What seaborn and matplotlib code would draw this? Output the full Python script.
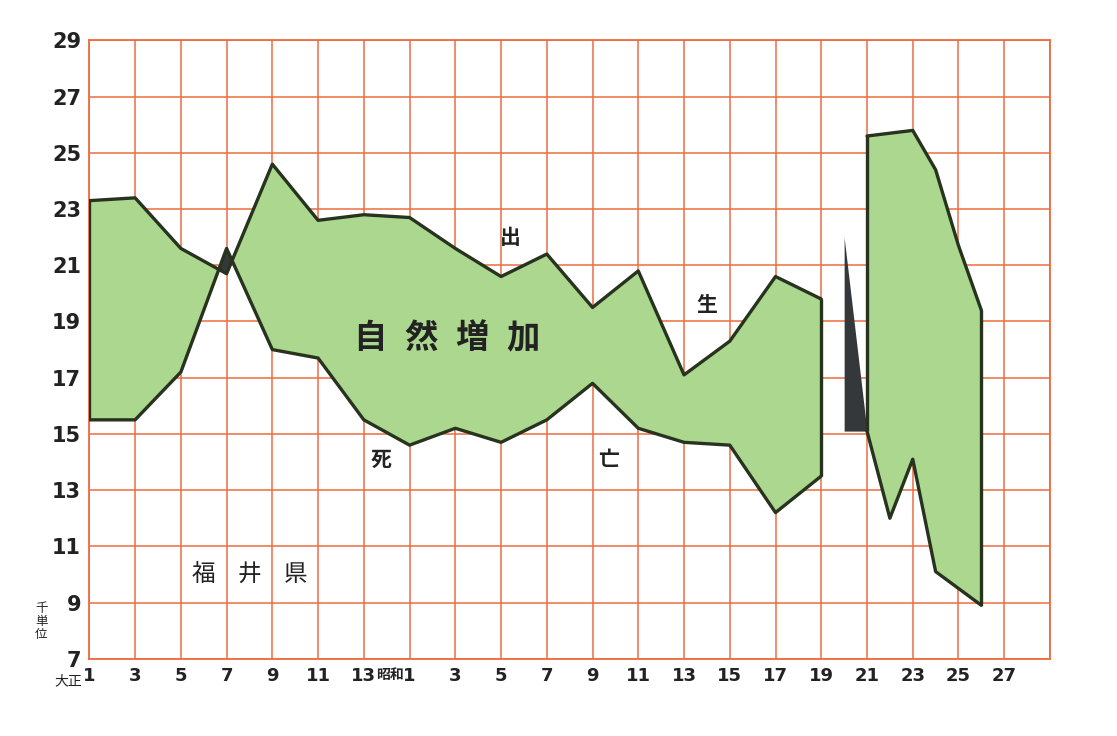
import matplotlib
matplotlib.use("Agg")
import matplotlib.pyplot as plt
import seaborn as sns
import numpy as np

sns.set_theme(style="white")
plt.rcParams['font.family'] = ['Noto Sans CJK JP', 'DejaVu Sans']

# ---------------- data (thousands of persons), Fukui prefecture ----------------
# pre-war segment, every second year (Taisho 1 .. Showa 19)
years_a = [1912, 1914, 1916, 1918, 1920, 1922, 1924, 1926, 1928, 1930,
           1932, 1934, 1936, 1938, 1940, 1942, 1944]
births_a = [23.3, 23.4, 21.6, 20.7, 24.6, 22.6, 22.8, 22.7, 21.6, 20.6,
            21.4, 19.5, 20.8, 17.1, 18.3, 20.6, 19.8]
deaths_a = [15.5, 15.5, 17.2, 21.6, 18.0, 17.7, 15.5, 14.6, 15.2, 14.7,
            15.5, 16.8, 15.2, 14.7, 14.6, 12.2, 13.5]

# war-end excess of deaths (dark wedge)
years_w = [1945, 1946]
war_deaths = [22.0, 15.1]
war_births = [15.1, 15.1]

# post-war segment, yearly
years_b = [1946, 1947, 1948, 1949, 1950, 1951]
births_b = [25.6, 25.7, 25.8, 24.4, 21.7, 19.4]
deaths_b = [15.1, 12.0, 14.1, 10.1, 9.5, 8.9]

x_ticks = list(range(1912, 1955, 2))
x_labels = ["1", "3", "5", "7", "9", "11", "13",
            "1", "3", "5", "7", "9", "11", "13", "15", "17", "19", "21",
            "23", "25", "27", ""]
y_ticks = list(range(7, 30, 2))

# ---------------- styling ----------------
GRID = "#ee6c3e"
GREEN = "#abd78e"
EDGE = "#27331f"
DARK = "#35383a"
INK = "#222222"

fig = plt.figure(figsize=(11.17, 7.36), dpi=100)
fig.patch.set_facecolor("white")
ax = fig.add_axes([0.08, 0.105, 0.86, 0.84])
ax.set_facecolor("white")

def segment(years, births, deaths):
    x = np.array(years, dtype=float)
    b = np.array(births)
    d = np.array(deaths)
    ax.fill_between(x, d, b, where=b >= d, interpolate=True,
                    color=GREEN, lw=0, zorder=2)
    ax.fill_between(x, b, d, where=d > b, interpolate=True,
                    color=DARK, lw=0, zorder=2)
    sns.lineplot(x=x, y=b, ax=ax, color=EDGE, lw=2.4, zorder=3,
                 estimator=None, sort=False)
    sns.lineplot(x=x, y=d, ax=ax, color=EDGE, lw=2.4, zorder=3,
                 estimator=None, sort=False)
    ax.vlines([x[0], x[-1]], [d[0], d[-1]], [b[0], b[-1]],
              color=EDGE, lw=2.4, zorder=3)

segment(years_a, births_a, deaths_a)
ax.fill_between(years_w, war_births, war_deaths, color=DARK, lw=0, zorder=2)
segment(years_b, births_b, deaths_b)

ax.set_xlim(1912, 1954)
ax.set_ylim(7, 29)
ax.set_xticks(x_ticks)
ax.set_xticklabels(x_labels, fontsize=13, fontweight="bold", color=INK,
                   family=['DejaVu Sans'])
ax.set_yticks(y_ticks)
ax.set_yticklabels([str(v) for v in y_ticks], fontsize=15, fontweight="bold",
                   color=INK, family=['DejaVu Sans'])
ax.tick_params(length=0, pad=6)
ax.grid(True, color=GRID, lw=1.1, zorder=1)
for sp in ax.spines.values():
    sp.set_color(GRID)
    sp.set_linewidth(1.3)
ax.set_xlabel("")
ax.set_ylabel("")

# era markers and unit
xt = ax.get_xaxis_transform()
ax.annotate("大正", xy=(1912, -0.036), xycoords=xt, xytext=(-7, 0),
            textcoords="offset pixels", ha="right", va="center",
            fontsize=10, color=INK)
ax.annotate("昭和", xy=(1926, -0.026), xycoords=xt, xytext=(-6, 0),
            textcoords="offset pixels", ha="right", va="center",
            fontsize=10, fontweight="bold", color=INK)
ax.text(-0.05, 0.06, "千\n単\n位", transform=ax.transAxes, ha="center",
        va="center", fontsize=9, linespacing=1.0, color=INK)

# annotations
for i, ch in enumerate("自然増加"):
    ax.annotate(ch, xy=(1927.6, 18.4), xytext=((i - 1.5) * 51, 0),
                textcoords="offset pixels", ha="center", va="center",
                fontsize=24, fontweight="bold", color=INK, zorder=4)
for i, ch in enumerate("福井県"):
    ax.annotate(ch, xy=(1919.0, 10.0), xytext=((i - 1) * 46, 0),
                textcoords="offset pixels", ha="center", va="center",
                fontsize=17, color=INK, zorder=4)
for ch, xx, yy in [("出", 1930.4, 22.0), ("生", 1939.0, 19.6),
                   ("死", 1924.75, 14.1), ("亡", 1934.7, 14.1)]:
    ax.text(xx, yy, ch, ha="center", va="center", fontsize=15,
            fontweight="bold", color=INK, zorder=4)

fig.savefig("out.png", dpi=100, facecolor=fig.get_facecolor())
